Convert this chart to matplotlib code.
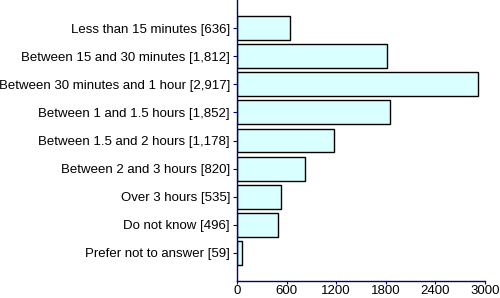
import matplotlib
matplotlib.use("Agg")
import matplotlib.pyplot as plt

categories = ["Less than 15 minutes [636]", "Between 15 and 30 minutes [1,812]",
              "Between 30 minutes and 1 hour [2,917]", "Between 1 and 1.5 hours [1,852]",
              "Between 1.5 and 2 hours [1,178]", "Between 2 and 3 hours [820]",
              "Over 3 hours [535]", "Do not know [496]", "Prefer not to answer [59]"]
values = [636, 1812, 2917, 1852, 1178, 820, 535, 496, 59]
xticks = [0, 600, 1200, 1800, 2400, 3000]

plt.rcParams['font.family'] = ['Liberation Sans', 'DejaVu Sans']
fig = plt.figure(figsize=(5, 2.98), dpi=100)
ax = fig.add_axes([237/500, 17/298, 248/500, 281/298])
navy = '#000080'
ypos = list(range(len(categories)))
ax.barh(ypos, values, height=0.85, color='#d9ffff', edgecolor='black', linewidth=1.0)
ax.set_ylim(9, -1)
ax.set_xlim(0, 3000)
ax.set_xticks(xticks)
ax.set_xticklabels([str(t) for t in xticks], fontsize=9.5)
ax.set_yticks(ypos)
ax.set_yticklabels(categories, fontsize=9.5)
for s in ['top', 'right']:
    ax.spines[s].set_visible(False)
for s in ['left', 'bottom']:
    ax.spines[s].set_color(navy)
    ax.spines[s].set_linewidth(1.0)
ax.tick_params(axis='y', colors=navy, labelcolor='black', length=3, width=0.8, pad=2)
ax.tick_params(axis='x', colors=navy, labelcolor='black', length=2, width=0.8, pad=1)
fig.savefig("out.png", dpi=100)
